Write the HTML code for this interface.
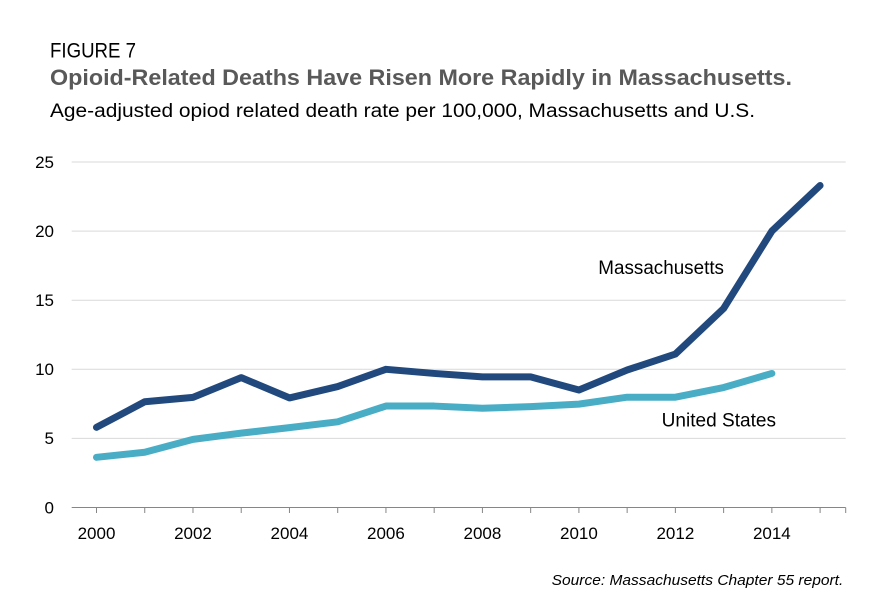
<!DOCTYPE html>
<html><head><meta charset="utf-8"><style>
html,body{margin:0;padding:0;background:#fff;}
svg{display:block;}
text{font-family:"Liberation Sans",sans-serif;}
</style></head><body>
<svg width="886" height="616" viewBox="0 0 886 616" xmlns="http://www.w3.org/2000/svg">
<rect width="886" height="616" fill="#fff"/>
<text x="50" y="57.5" font-size="21" fill="#000" textLength="86" lengthAdjust="spacingAndGlyphs">FIGURE 7</text>
<text x="50" y="85" font-size="22" font-weight="bold" fill="#595959" textLength="742" lengthAdjust="spacingAndGlyphs">Opioid-Related Deaths Have Risen More Rapidly in Massachusetts.</text>
<text x="50" y="117" font-size="19" fill="#000" textLength="705" lengthAdjust="spacingAndGlyphs">Age-adjusted opiod related death rate per 100,000, Massachusetts and U.S.</text>

<g stroke="#d9d9d9" stroke-width="1">
<line x1="71.7" y1="162" x2="845.7" y2="162"/>
<line x1="71.7" y1="231.1" x2="845.7" y2="231.1"/>
<line x1="71.7" y1="300.2" x2="845.7" y2="300.2"/>
<line x1="71.7" y1="369.3" x2="845.7" y2="369.3"/>
<line x1="71.7" y1="438.4" x2="845.7" y2="438.4"/>
</g>
<g stroke="#868686" stroke-width="1">
<line x1="71.7" y1="507.5" x2="845.7" y2="507.5"/>
<line x1="96.5" y1="507.5" x2="96.5" y2="513"/>
<line x1="144.74" y1="507.5" x2="144.74" y2="513"/>
<line x1="192.98" y1="507.5" x2="192.98" y2="513"/>
<line x1="241.22" y1="507.5" x2="241.22" y2="513"/>
<line x1="289.46" y1="507.5" x2="289.46" y2="513"/>
<line x1="337.7" y1="507.5" x2="337.7" y2="513"/>
<line x1="385.94" y1="507.5" x2="385.94" y2="513"/>
<line x1="434.18" y1="507.5" x2="434.18" y2="513"/>
<line x1="482.42" y1="507.5" x2="482.42" y2="513"/>
<line x1="530.66" y1="507.5" x2="530.66" y2="513"/>
<line x1="578.9" y1="507.5" x2="578.9" y2="513"/>
<line x1="627.14" y1="507.5" x2="627.14" y2="513"/>
<line x1="675.38" y1="507.5" x2="675.38" y2="513"/>
<line x1="723.62" y1="507.5" x2="723.62" y2="513"/>
<line x1="771.86" y1="507.5" x2="771.86" y2="513"/>
<line x1="820.1" y1="507.5" x2="820.1" y2="513"/>
<line x1="845.7" y1="507.5" x2="845.7" y2="513"/>
</g>

<g font-size="17" fill="#000" text-anchor="end">
<text x="54" y="168">25</text>
<text x="54" y="237">20</text>
<text x="54" y="306">15</text>
<text x="54" y="375">10</text>
<text x="54" y="444">5</text>
<text x="54" y="513.5">0</text>
</g>
<g font-size="17" fill="#000" text-anchor="middle">
<text x="96.5" y="539">2000</text>
<text x="192.98" y="539">2002</text>
<text x="289.46" y="539">2004</text>
<text x="385.94" y="539">2006</text>
<text x="482.42" y="539">2008</text>
<text x="578.9" y="539">2010</text>
<text x="675.38" y="539">2012</text>
<text x="771.86" y="539">2014</text>
</g>

<polyline fill="none" stroke="#4aadc6" stroke-width="7" stroke-linecap="round" stroke-linejoin="round"
points="96.5,457.33 144.74,452.22 192.98,439.37 241.22,433.15 289.46,427.62 337.7,421.82 385.94,406.06 434.18,406.06 482.42,408.27 530.66,406.61 578.9,404.13 627.14,397.22 675.38,397.22 723.62,387.54 771.86,373.45"/>
<polyline fill="none" stroke="#21497e" stroke-width="7" stroke-linecap="round" stroke-linejoin="round"
points="96.5,427.34 144.74,401.78 192.98,397.35 241.22,377.59 289.46,397.91 337.7,386.57 385.94,369.3 434.18,373.45 482.42,376.9 530.66,376.9 578.9,390.03 627.14,369.99 675.38,354.1 723.62,308.49 771.86,231.1 820.1,185.49"/>

<text x="598.3" y="274" font-size="19" fill="#000" textLength="125.7" lengthAdjust="spacingAndGlyphs">Massachusetts</text>
<text x="661.7" y="426.7" font-size="19" fill="#000" textLength="114.3" lengthAdjust="spacingAndGlyphs">United States</text>

<text x="551.7" y="585" font-size="15" font-style="italic" fill="#000" textLength="291.6" lengthAdjust="spacingAndGlyphs">Source: Massachusetts Chapter 55 report.</text>
</svg>
</body></html>
